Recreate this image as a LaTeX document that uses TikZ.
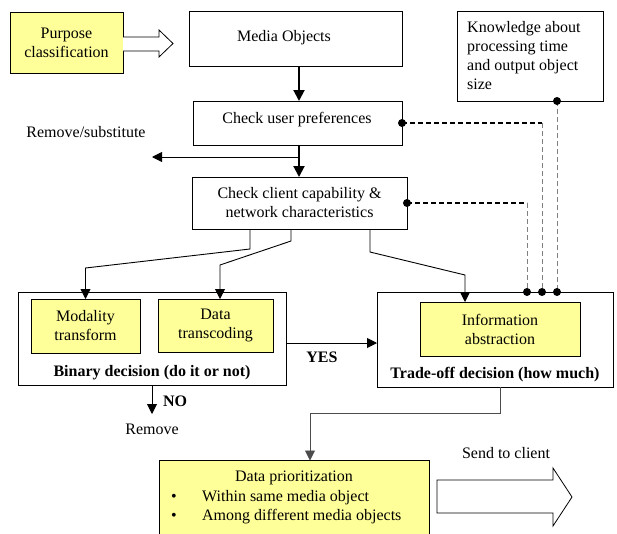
\documentclass[tikz,border=0pt]{standalone}
\usepackage{fontspec}
\setmainfont{Liberation Serif}
\usetikzlibrary{arrows.meta,calc}
\definecolor{hl}{RGB}{255,255,153}
\begin{document}
\begin{tikzpicture}[x=1pt,y=-1pt,
  font=\fontsize{16}{19}\selectfont,
  box/.style={draw, line width=0.8pt, inner sep=0pt, outer sep=0pt, align=center},
  ybox/.style={box, fill=hl},
  txt/.style={inner sep=0pt, align=center},
  bold/.style={font=\fontsize{16}{19}\selectfont\bfseries},
  bigarrow/.style={line width=2pt, -{Triangle[length=11pt,width=11pt]}},
  arrow/.style={line width=0.9pt, -{Triangle[length=10pt,width=10pt]}},
  hollow/.style={draw, line width=0.8pt, fill=white, line join=miter},
  dashh/.style={line width=2pt, dash pattern=on 5pt off 3pt},
  dashv/.style={gray, line width=0.9pt, dash pattern=on 5pt off 3pt},
  dot/.style={circle, fill=black, inner sep=0pt, minimum size=8pt},
]
\useasboundingbox (0,0) rectangle (617,533);

% boxes
\node[ybox, minimum width=113pt, minimum height=61pt] (purpose) at (66.5,42.5) {Purpose\\classification};
\node[box, minimum width=213pt, minimum height=55pt] (media) at (295.5,38.5) {};
\node[txt] (mediatext) at (284,38) {Media Objects};
\node[box, minimum width=209pt, minimum height=44pt] (pref) at (297.5,123) {};
\node[txt] (preftext) at (297,120) {Check user preferences};
\node[box, minimum width=215pt, minimum height=52pt] (client) at (299.5,203) {Check client capability \&\\network characteristics};
\node[box, minimum width=146pt, minimum height=90pt] (know) at (530,56) {};
\node[txt, align=left, anchor=north west] (knowtext) at (467,21) {Knowledge about\\processing time\\and output object\\size};

\node[box, minimum width=268pt, minimum height=93pt] (binary) at (152,338.5) {};
\node[ybox, minimum width=109pt, minimum height=54pt] (modal) at (85.5,326) {Modality\\transform};
\node[ybox, minimum width=115pt, minimum height=53pt] (data) at (215.5,325.5) {Data\\transcoding};
\node[txt, bold] (binlabel) at (152,373) {Binary decision (do it or not)};

\node[box, minimum width=236pt, minimum height=95pt] (trade) at (495,339.5) {};
\node[ybox, minimum width=160pt, minimum height=54pt] (info) at (500,329) {Information\\abstraction};
\node[txt, bold] (tradelabel) at (495,375) {Trade-off decision (how much)};

\node[ybox, minimum width=270pt, minimum height=74pt] (prio) at (294,497.5) {};
\node[txt] (priotitle) at (294,478) {Data prioritization};
\node[txt, align=left, anchor=west] (priolist) at (171,507) {\makebox[31pt][l]{\textbullet}Within same media object\\\makebox[31pt][l]{\textbullet}Among different media objects};

% labels
\node[txt] (remsub) at (86,132) {Remove/substitute};
\node[txt] (remove) at (152,429) {Remove};
\node[txt, bold] (no) at (175,401) {NO};
\node[txt, bold] (yes) at (322,357) {YES};
\node[txt] (send) at (506,453) {Send to client};

% helper coordinates
\coordinate (spine) at (299,0);
\coordinate (split) at (299,157);
\coordinate (rs) at (152,157);
\coordinate (yesy) at (0,343);
\coordinate (d1) at (542,0);
\coordinate (d2) at (527,0);
\coordinate (d3) at (557,0);

% hollow arrows
\draw[hollow] (purpose.east |- 0,37) -- (159,37) -- (159,30) -- (173,43.5) -- (159,57) -- (159,51) -- (purpose.east |- 0,51);
\draw[hollow] (437,480) -- (553,480) -- (553,468) -- (572,497) -- (553,526) -- (553,513) -- (437,513) -- cycle;

% main flow
\draw[bigarrow] (media.south -| spine) -- (pref.north -| spine);
\draw[bigarrow] (pref.south -| spine) -- (client.north -| spine);
\draw[arrow] (split) -- (rs);

\draw[arrow] ([xshift=-49.5pt]client.south) -- ++(0,20) -- (85.5,268) -- (modal.north);
\draw[arrow] ([xshift=-8.5pt]client.south) -- ++(0,12) -- (220,265) -- ([xshift=4.5pt]data.north);
\draw[arrow] ([xshift=70.5pt]client.south) -- ++(0,23) -- (465,275) -- ([xshift=-35pt]info.north);

\draw[arrow] (binary.east |- yesy) -- (trade.west |- yesy);
\draw[arrow] (binary.south) -- ++(0,29);
\draw[arrow, draw=black!70] ([xshift=5pt]trade.south) -- ++(0,26) -| ([xshift=16pt]prio.north);

% knowledge links
\draw[dashh] (pref.east) -- (pref.east -| d1);
\draw[dashv] (pref.east -| d1) -- (trade.north -| d1);
\draw[dashh] (client.east) -- (client.east -| d2);
\draw[dashv] (client.east -| d2) -- (trade.north -| d2);
\draw[dashv] (know.south -| d3) -- (trade.north -| d3);
\node[dot] at (pref.east) {};
\node[dot] at (client.east) {};
\node[dot] at (know.south -| d3) {};
\node[dot] at (trade.north -| d1) {};
\node[dot] at (trade.north -| d2) {};
\node[dot] at (trade.north -| d3) {};
\end{tikzpicture}
\end{document}
